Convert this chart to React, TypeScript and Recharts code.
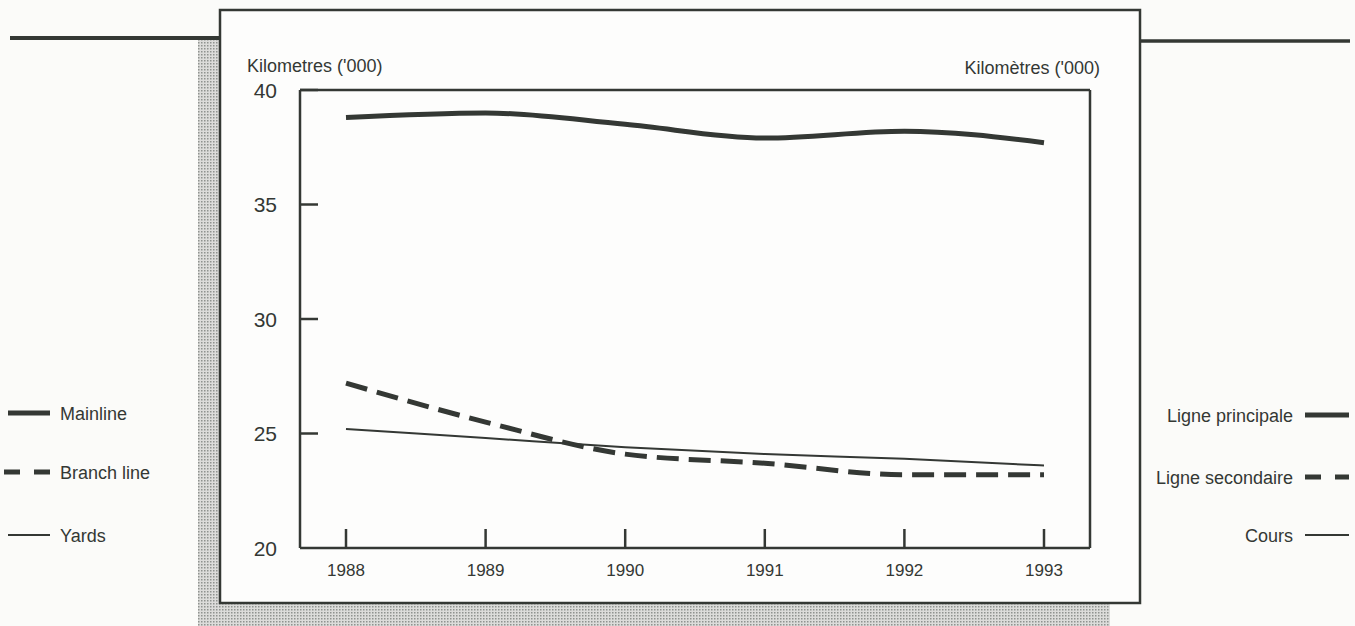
import { LineChart, Line, XAxis, YAxis } from 'recharts'

const years = ['1988', '1989', '1990', '1991', '1992', '1993']
const mainline = [38.8, 39.0, 38.5, 37.9, 38.2, 37.7]
const branchLine = [27.2, 25.5, 24.1, 23.7, 23.2, 23.2]
const yards = [25.2, 24.8, 24.4, 24.1, 23.9, 23.6]
const yTicks = [20, 25, 30, 35, 40]
const namesEn = ['Mainline', 'Branch line', 'Yards']
const namesFr = ['Ligne principale', 'Ligne secondaire', 'Cours']

const INK = '#343834'
const FONT = '"Liberation Sans", Arial, Helvetica, sans-serif'

const data = years.map((year, i) => ({
  year,
  mainline: mainline[i],
  branch: branchLine[i],
  yards: yards[i],
}))

const series = [
  { key: 'mainline', width: 5, dash: undefined as string | undefined },
  { key: 'branch', width: 5, dash: '22 10' },
  { key: 'yards', width: 2, dash: undefined as string | undefined },
]

const legendRows = [413, 472, 535]
const legendRowsFr = [415, 477, 535]

function LeftTick(props: any) {
  const { x, y, payload } = props
  return (
    <g>
      {payload.value > 20 && <line x1={x} x2={x + 18} y1={y} y2={y} stroke={INK} strokeWidth={2.5} />}
      <text x={x - 23} y={y + 7.5} textAnchor="end" fontSize={21} fontFamily={FONT} fill={INK}>
        {payload.value}
      </text>
    </g>
  )
}

function RightTick(props: any) {
  const { x, y, payload } = props
  if (payload.value === 20 || payload.value === 40) return <g />
  return <line x1={x - 17} x2={x} y1={y} y2={y} stroke={INK} strokeWidth={2.5} />
}

function BottomTick(props: any) {
  const { x, y, payload } = props
  return (
    <g>
      <line x1={x} x2={x} y1={y} y2={y - 19} stroke={INK} strokeWidth={2.5} />
      <text x={x} y={y + 28} textAnchor="middle" fontSize={17} fontFamily={FONT} fill={INK}>
        {payload.value}
      </text>
    </g>
  )
}

function Backdrop() {
  return (
    <svg width={1355} height={626} style={{ position: 'absolute', left: 0, top: 0 }}>
      <defs>
        <pattern id="dots" width={3} height={3} patternUnits="userSpaceOnUse">
          <rect width={3} height={3} fill="#dcdcda" />
          <rect width={1.5} height={1.5} fill="#8f928f" />
        </pattern>
      </defs>
      <rect width={1355} height={626} fill="#fbfbf9" />
      <rect x={198} y={38} width={22} height={566} fill="url(#dots)" />
      <rect x={198} y={604} width={912} height={22} fill="url(#dots)" />
      <line x1={10} x2={220} y1={38} y2={38} stroke={INK} strokeWidth={4} />
      <line x1={1140} x2={1350} y1={41} y2={41} stroke={INK} strokeWidth={3.5} />
      <rect x={220} y={10} width={920} height={593} fill="#fdfdfc" stroke={INK} strokeWidth={2.5} />
      <text x={247} y={72} fontSize={18} fontFamily={FONT} fill={INK}>
        Kilometres ('000)
      </text>
      <text x={1100} y={74} textAnchor="end" fontSize={18} fontFamily={FONT} fill={INK}>
        Kilomètres ('000)
      </text>
      {series.map((s, i) => (
        <g key={s.key}>
          <line
            x1={s.dash ? 4 : 8}
            x2={50}
            y1={legendRows[i]}
            y2={legendRows[i]}
            stroke={INK}
            strokeWidth={s.width}
            strokeDasharray={s.dash ? '16 14' : undefined}
          />
          <text x={60} y={legendRows[i] + 6.5} fontSize={18} fontFamily={FONT} fill={INK}>
            {namesEn[i]}
          </text>
          <line
            x1={1305}
            x2={1349}
            y1={legendRowsFr[i]}
            y2={legendRowsFr[i]}
            stroke={INK}
            strokeWidth={s.width}
            strokeDasharray={s.dash ? '16 14' : undefined}
          />
          <text x={1293} y={legendRowsFr[i] + 6.5} textAnchor="end" fontSize={18} fontFamily={FONT} fill={INK}>
            {namesFr[i]}
          </text>
        </g>
      ))}
    </svg>
  )
}

export default function App() {
  return (
    <div style={{ position: 'absolute', left: 0, top: 0, width: 1355, height: 626, overflow: 'hidden' }}>
      <Backdrop />
      <div style={{ position: 'absolute', left: 0, top: 0 }}>
        <LineChart width={1355} height={626} data={data} margin={{ top: 89, right: 264, bottom: 77, left: 299 }}>
          <XAxis
            dataKey="year"
            padding={{ left: 46, right: 46 }}
            height={1}
            tickSize={0}
            tickMargin={0}
            tickLine={false}
            axisLine={{ stroke: INK, strokeWidth: 2.5 }}
            tick={BottomTick}
            interval={0}
          />
          <XAxis
            xAxisId="top"
            orientation="top"
            dataKey="year"
            height={1}
            tick={false}
            tickLine={false}
            axisLine={{ stroke: INK, strokeWidth: 2.5 }}
          />
          <YAxis
            domain={[20, 40]}
            ticks={yTicks}
            width={1}
            tickSize={0}
            tickMargin={0}
            tickLine={false}
            axisLine={{ stroke: INK, strokeWidth: 2.5 }}
            tick={LeftTick}
            interval={0}
          />
          <YAxis
            yAxisId="r"
            orientation="right"
            domain={[20, 40]}
            ticks={yTicks}
            width={1}
            tickSize={0}
            tickMargin={0}
            tickLine={false}
            axisLine={{ stroke: INK, strokeWidth: 2.5 }}
            tick={RightTick}
            interval={0}
          />
          {series.map((s) => (
            <Line
              key={s.key}
              type="monotone"
              dataKey={s.key}
              stroke={INK}
              strokeWidth={s.width}
              strokeDasharray={s.dash}
              strokeLinecap="butt"
              dot={false}
              activeDot={false}
              isAnimationActive={false}
            />
          ))}
        </LineChart>
      </div>
    </div>
  )
}
